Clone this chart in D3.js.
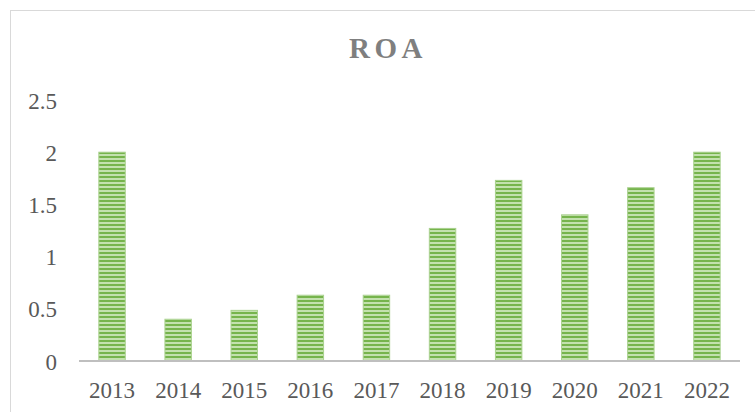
<!DOCTYPE html>
<html><head><meta charset="utf-8">
<script src="https://cdn.jsdelivr.net/npm/d3@7"></script>
<style>body{margin:0;background:#fff}svg{display:block}</style>
</head><body>
<script>
const years = ["2013","2014","2015","2016","2017","2018","2019","2020","2021","2022"];
const roa = [2.0, 0.40, 0.485, 0.63, 0.63, 1.27, 1.73, 1.40, 1.66, 2.0];
const yTicks = [0, 0.5, 1, 1.5, 2, 2.5];
const title = "ROA";

const W = 755, H = 412;
const svg = d3.select("body").append("svg").attr("width", W).attr("height", H);
const defs = svg.append("defs");
const pat = defs.append("pattern").attr("id","stripes").attr("patternUnits","userSpaceOnUse")
  .attr("width",8).attr("height",4);
pat.append("rect").attr("width",8).attr("height",4).attr("fill","#C3E1AE");
pat.append("rect").attr("y",0).attr("width",8).attr("height",2).attr("fill","#76B44C");

// frame
svg.append("rect").attr("x",10.5).attr("y",10.5).attr("width",800).attr("height",500)
  .attr("fill","none").attr("stroke","#D9D9D9").attr("stroke-width",1);

const x = d3.scaleBand().domain(years).range([79, 740]).paddingInner(0.6).paddingOuter(0.3);
const y = d3.scaleLinear().domain([0, 2.5]).range([361, 100]);

svg.append("text").attr("x",388).attr("y",58).attr("text-anchor","middle")
  .attr("font-family","Liberation Serif").attr("font-weight","bold").attr("font-size",29)
  .attr("letter-spacing",4.5).attr("fill","#7F7F7F").text(title);

svg.append("g").selectAll("rect").data(years).join("rect")
  .attr("x", d => x(d)).attr("width", x.bandwidth())
  .attr("y", (d,i) => y(roa[i])).attr("height", (d,i) => y(0) - y(roa[i]))
  .attr("fill","url(#stripes)").attr("stroke","#A9D18E").attr("stroke-width",1);

const ya = d3.axisLeft(y).tickValues(yTicks).tickSize(0).tickPadding(0).tickFormat(d => String(d));
const gy = svg.append("g").attr("transform","translate(57,0)").call(ya);
gy.select(".domain").remove();
gy.selectAll("text").attr("font-family","Liberation Serif").attr("font-size",23).attr("fill","#595959").attr("dy","0.35em");

const gx = svg.append("g").attr("transform","translate(0,361)").call(d3.axisBottom(x).tickSize(0).tickPadding(0));
gx.select(".domain").attr("stroke","#BFBFBF").attr("stroke-width",2.2).attr("d","M79,0H740");
gx.selectAll("text").attr("font-family","Liberation Serif").attr("font-size",23).attr("fill","#595959").attr("y",37).attr("dy",0);
</script>
</body></html>
